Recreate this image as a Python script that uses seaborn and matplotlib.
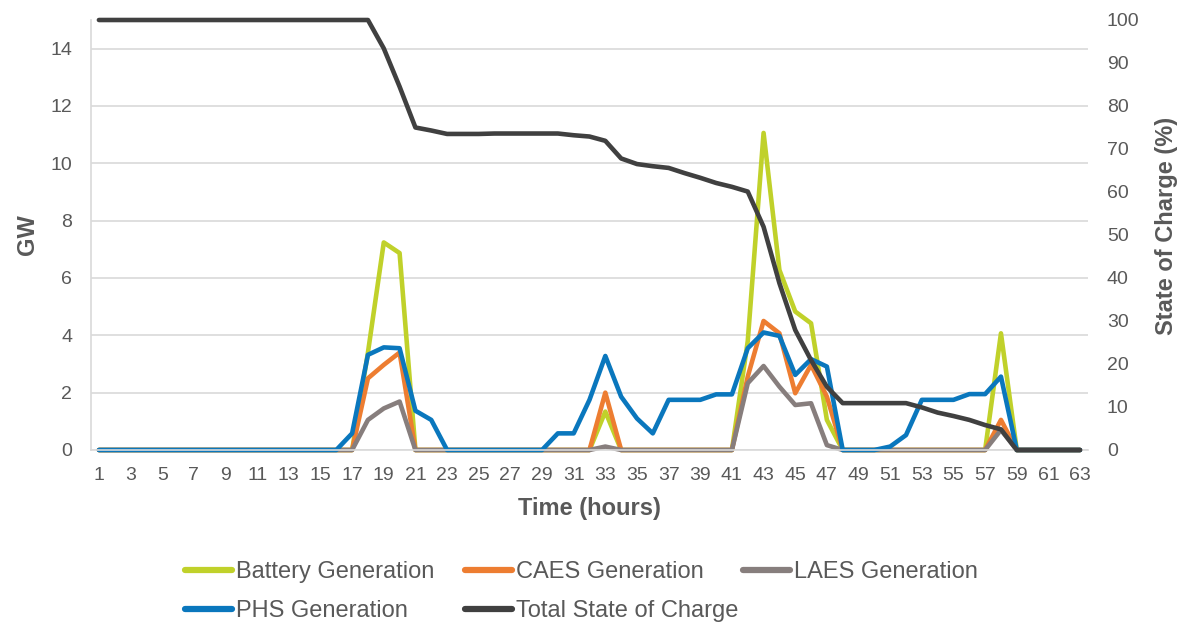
import numpy as np
import pandas as pd
import matplotlib
matplotlib.use("Agg")
import matplotlib.pyplot as plt
import seaborn as sns
from matplotlib.lines import Line2D

hours = list(range(1, 64))

battery = [0]*17 + [3.4, 7.24, 6.87] + [0]*12 + [1.34] + [0]*8 + [3.8, 11.06, 6.28, 4.83, 4.42, 1.05] + [0]*10 + [4.07] + [0]*5
caes = [0]*17 + [2.5, 2.97, 3.40] + [0]*12 + [2.0] + [0]*8 + [2.56, 4.5, 4.07, 1.98, 2.97, 1.86] + [0]*10 + [1.05] + [0]*5
laes = [0]*17 + [1.05, 1.45, 1.69] + [0]*12 + [0.12] + [0]*8 + [2.33, 2.93, 2.21, 1.57, 1.63, 0.17] + [0]*10 + [0.7] + [0]*5
phs = ([0]*16 + [0.58, 3.32, 3.58, 3.55, 1.37, 1.05] + [0]*7
       + [0.58, 0.58, 1.75, 3.28, 1.86, 1.1, 0.58, 1.75, 1.75, 1.75, 1.94, 1.94,
          3.55, 4.10, 3.98, 2.62, 3.17, 2.91, 0, 0, 0, 0.12, 0.52,
          1.75, 1.75, 1.75, 1.95, 1.95, 2.56] + [0]*5)
soc = ([100]*18 + [93.4, 84.5, 75.0, 74.3, 73.5, 73.5, 73.5, 73.6, 73.6, 73.6, 73.6, 73.6,
        73.2, 72.9, 71.9, 67.8, 66.5, 66.0, 65.6, 64.4, 63.3, 62.1, 61.2, 60.1,
        51.9, 38.8, 27.9, 20.9, 14.7, 10.9, 10.9, 10.9, 10.9, 10.9,
        9.9, 8.7, 7.9, 7.0, 5.8, 4.8] + [0]*5)

series_names = ["Battery Generation", "CAES Generation", "LAES Generation", "PHS Generation"]
soc_name = "Total State of Charge"
colors = {"Battery Generation": "#C0D12A", "CAES Generation": "#ED7D31",
          "LAES Generation": "#877E7D", "PHS Generation": "#0A77BD",
          "Total State of Charge": "#404040"}

df = pd.DataFrame({"Hour": hours, "Battery Generation": battery, "CAES Generation": caes,
                   "LAES Generation": laes, "PHS Generation": phs})
long = df.melt(id_vars="Hour", var_name="Series", value_name="GW")
soc_df = pd.DataFrame({"Hour": hours, "SOC": soc})

sns.set_theme(style="white")
plt.rcParams["font.family"] = ["Liberation Sans", "DejaVu Sans"]

W, H = 1177, 625
fig = plt.figure(figsize=(W/100, H/100), dpi=100)
ax = fig.add_axes([91/W, 1-450/H, (1088-91)/W, (450-20)/H])

lw = 3.3
for name in series_names:
    sub = long[long["Series"] == name]
    sns.lineplot(data=sub, x="Hour", y="GW", ax=ax, color=colors[name], linewidth=lw,
                 legend=False, clip_on=False)

ax2 = ax.twinx()
sns.lineplot(data=soc_df, x="Hour", y="SOC", ax=ax2, color=colors[soc_name], linewidth=lw,
             legend=False, clip_on=False)

ax.set_xlim(0.5, 63.5)
ax.set_ylim(0, 15)
ax2.set_ylim(0, 100)
ax.set_yticks(range(0, 15, 2))
ax2.set_yticks(range(0, 101, 10))
ax.set_xticks(range(1, 64, 2))
ax.set_xticks(np.arange(0.5, 64, 1), minor=True)

grid_c = "#D9D9D9"
ax.yaxis.grid(True, color=grid_c, linewidth=1.2)
ax.set_axisbelow(True)
for a in (ax, ax2):
    for s in ["top", "right", "left"]:
        a.spines[s].set_visible(False)
ax.spines["bottom"].set_color(grid_c)
ax.spines["bottom"].set_linewidth(1.2)
ax.spines["left"].set_visible(True)
ax.spines["left"].set_color(grid_c)
ax.spines["left"].set_linewidth(1.2)
ax2.spines["bottom"].set_visible(False)

tick_c = "#595959"
ax.tick_params(axis="x", which="major", length=0, labelsize=14, colors=tick_c, pad=12)
ax.tick_params(axis="x", which="minor", length=3.5, color=grid_c, width=1.2)
ax.tick_params(axis="y", length=0, labelsize=14, colors=tick_c, pad=13.5)
ax2.tick_params(axis="y", length=0, labelsize=14, colors=tick_c, pad=13.5)

ax.set_xlabel("Time (hours)", fontsize=17, fontweight="bold", color=tick_c)
ax.set_ylabel("GW", fontsize=17, fontweight="bold", color=tick_c)
ax2.set_ylabel("State of Charge (%)", fontsize=17, fontweight="bold", color=tick_c)
ax.xaxis.set_label_coords(0.5, (450-497)/430)
ax.yaxis.set_label_coords((39-91)/997, 0.5)
ax2.yaxis.set_label_coords((1155-91)/997, 0.52)

handles = {n: Line2D([], [], color=colors[n], linewidth=4.5) for n in series_names + [soc_name]}
columns = [(185, ["Battery Generation", "PHS Generation"]),
           (465, ["CAES Generation", soc_name]),
           (743, ["LAES Generation"])]
for xpx, names in columns:
    fig.legend([handles[n] for n in names], names, loc="upper left",
               bbox_to_anchor=(xpx/W, 1-561/H), ncol=1, frameon=False,
               fontsize=17, handlelength=2.0, handletextpad=0.17,
               labelspacing=0.72, borderpad=0, borderaxespad=0, labelcolor=tick_c)

fig.savefig("out.png", dpi=100)
